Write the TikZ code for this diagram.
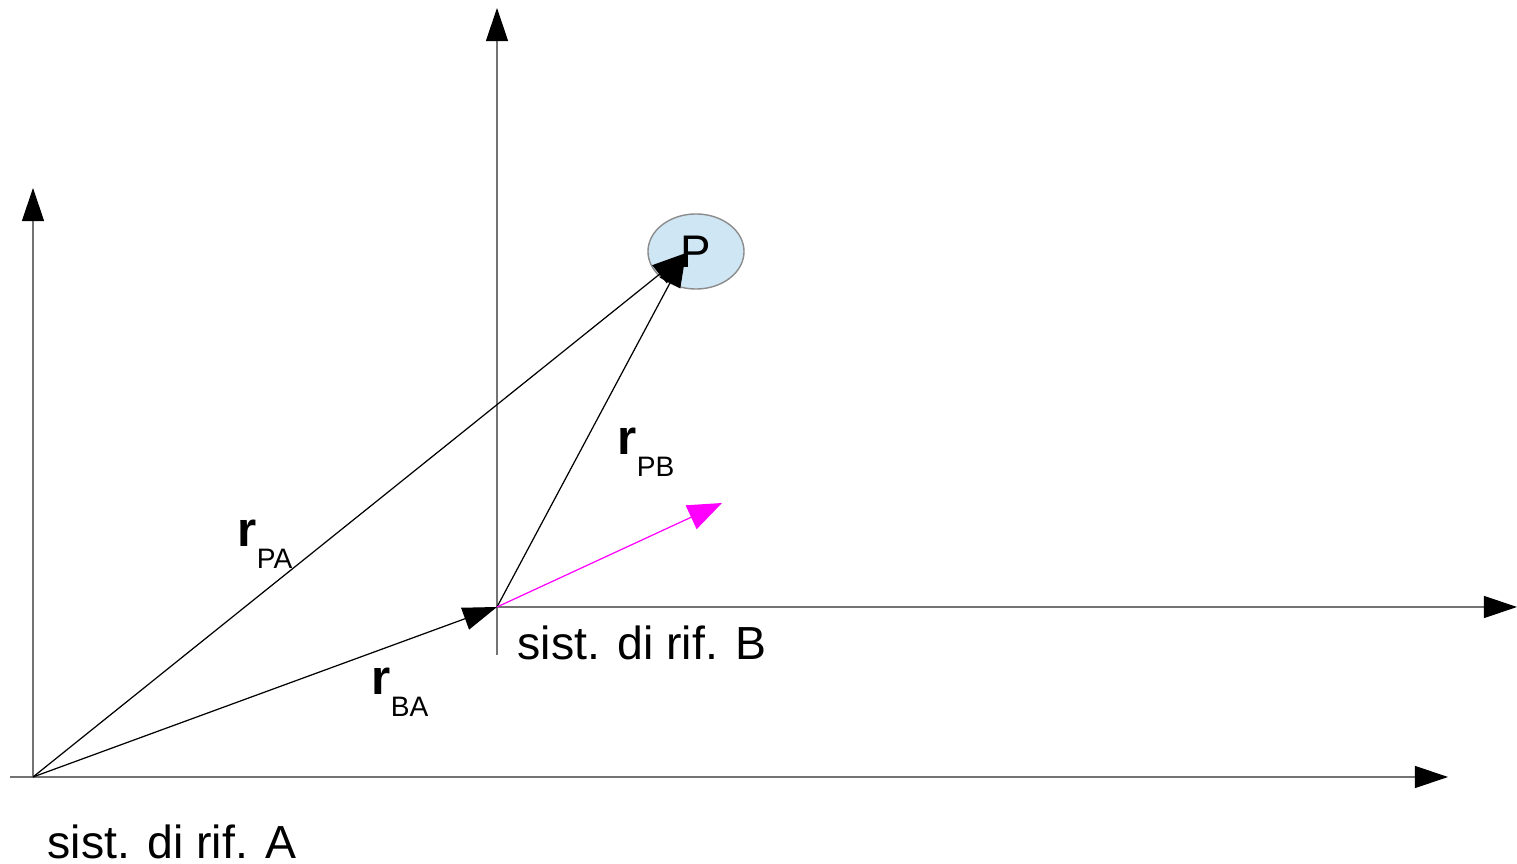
\documentclass[tikz,border=0pt]{standalone}
\usepackage{fontspec}
\setmainfont{Liberation Sans}
\usetikzlibrary{arrows.meta, shapes.geometric}
\definecolor{pfill}{RGB}{207,231,245}
\definecolor{vmag}{RGB}{255,0,255}
\newcommand{\rvec}[1]{{\fontsize{14}{14}\selectfont\bfseries r}\raisebox{-0.21cm}{\fontsize{8}{9}\selectfont #1}}

\begin{document}
\begin{tikzpicture}[x=0.01cm, y=-0.01cm,
    axis/.style={draw=black!55, line width=0.35pt, -{Triangle[length=0.33cm, width=0.22cm, color=black]}},
    vec/.style={draw=black, line width=0.35pt, -{Triangle[length=0.34cm, width=0.23cm]}},
    lbl/.style={inner sep=0, anchor=base west, font=\fontsize{13.2}{15}\selectfont},
    point/.style={ellipse, draw=black!45, line width=0.4pt, fill=pfill, minimum width=0.96cm, minimum height=0.75cm, inner sep=0, font=\fontsize{13}{15}\selectfont}
]
\useasboundingbox (0,0) rectangle (1517,864);

% origins and ends
\coordinate (OA) at (33,777);
\coordinate (OB) at (497,607);
\coordinate (xA) at (1448,777);
\coordinate (yA) at (33,188);
\coordinate (xA0) at (10,777);
\coordinate (xB) at (1517,607);
\coordinate (yB) at (497,8);
\coordinate (yB0) at (497,655);
\coordinate (Ptip) at (686,253);
\coordinate (vB) at (722,503);

% point P
\node[point] (P) at (696,251.5) {P};

% system A
\draw[axis] (xA0) -- (xA);
\draw[axis] (OA) -- (yA);
\node[lbl] (sysA) at (47,859) {sist. di rif. A};

% system B
\draw[axis] (OB) -- (xB);
\draw[axis] (yB0) -- (yB);
\node[lbl] (sysB) at (517,660) {sist. di rif. B};

% vectors
\draw[vec] (OA) -- (Ptip);
\draw[vec] (OB) -- (Ptip);
\draw[vec] (OA) -- (OB);
\draw[vec, draw=vmag, -{Triangle[length=0.34cm, width=0.26cm]}] (OB) -- (vB);

% labels
\node[lbl] (rPA) at (237,547) {\rvec{PA}};
\node[lbl] (rPB) at (617,455) {\rvec{PB}};
\node[lbl] (rBA) at (371,695) {\rvec{BA}};

\end{tikzpicture}
\end{document}
